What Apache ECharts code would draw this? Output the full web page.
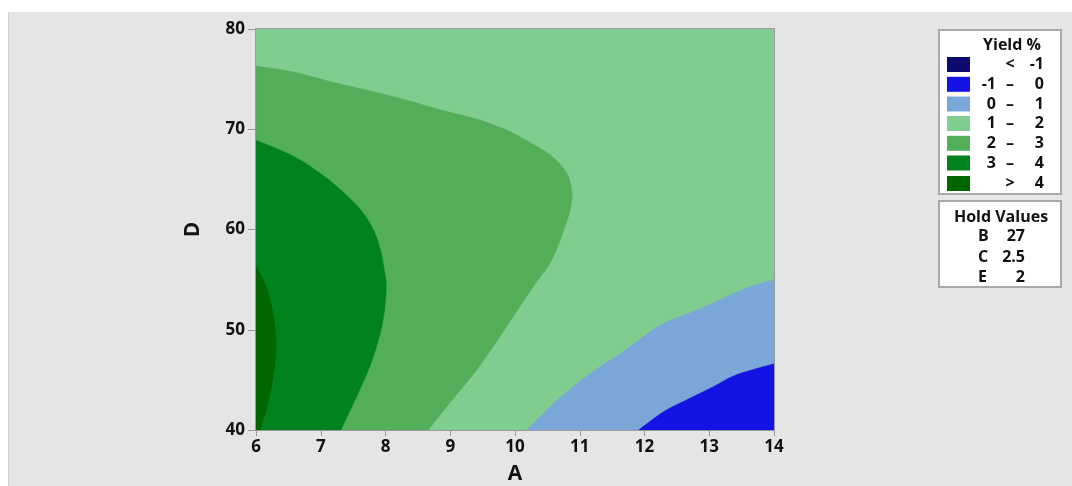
<!DOCTYPE html>
<html>
<head>
<meta charset="utf-8">
<title>Yield % contour plot</title>
<script src="https://cdn.jsdelivr.net/npm/echarts@6/dist/echarts.min.js"></script>
<style>
  html, body { margin: 0; padding: 0; background: #ffffff; }
  #chart { width: 1072px; height: 486px; }
</style>
</head>
<body>
<div id="chart"></div>
<script>
// Axis ranges and ticks
const xRange = [6, 14];
const yRange = [40, 80];
const xInterval = 1;
const yInterval = 10;

// Contour level bands (lowest to highest) and their fill colours
const levelColors = ['#0b0b70', '#1313e3', '#7ba7d8', '#81cd8f', '#52ae59', '#00831f', '#006600'];
const legendLabels = [
  ['', '<', '-1'],
  ['-1', '\u2013', '0'],
  ['0', '\u2013', '1'],
  ['1', '\u2013', '2'],
  ['2', '\u2013', '3'],
  ['3', '\u2013', '4'],
  ['', '>', '4']
];

// Hold values for the other factors
const holdFactors = ['B', 'C', 'E'];
const holdValues = ['27', '2.5', '2'];

// Contour lines as [A, D] points
const contour4 = [[6, 56.3], [6.16, 54.3], [6.27, 51.3], [6.31, 48.7], [6.29, 46.5], [6.24, 44.4], [6.16, 42.0], [6.06, 40]];
const contour3 = [[6, 68.9], [6.58, 67.3], [6.99, 65.6], [7.30, 64.0], [7.61, 62.0], [7.81, 60.0], [7.92, 58.0], [7.98, 56.0],
  [8.01, 54.3], [7.97, 51.3], [7.86, 48.3], [7.71, 45.6], [7.55, 43.3], [7.31, 40]];
const contour2 = [[6, 76.3], [6.58, 75.7], [7.12, 74.8], [7.71, 73.9], [8.27, 73.0], [8.87, 71.9], [9.41, 71.0], [9.80, 70.1],
  [10.0, 69.5], [10.28, 68.5], [10.57, 67.3], [10.80, 65.6], [10.88, 63.6], [10.85, 62.0], [10.77, 60.3], [10.57, 57.0],
  [10.28, 54.3], [10.0, 51.6], [9.66, 48.3], [9.36, 45.6], [8.94, 42.3], [8.66, 40]];
const contour1 = [[14, 55.0], [13.63, 54.3], [13.37, 53.6], [12.86, 52.1], [12.29, 50.6], [11.98, 49.3], [11.67, 47.8],
  [11.31, 46.3], [10.95, 44.6], [10.59, 42.6], [10.18, 40]];
const contour0 = [[14, 46.6], [13.42, 45.5], [13.06, 44.3], [12.65, 43.0], [12.29, 41.8], [11.91, 40]];

// Filled regions, painted back to front: each band's contour is closed against a plot corner
const cornerLL = [xRange[0], yRange[0]];
const cornerLR = [xRange[1], yRange[0]];
const regions = [
  { level: 3, curve: [[xRange[0], yRange[0]], [xRange[0], yRange[1]], [xRange[1], yRange[1]], [xRange[1], yRange[0]]], corner: null },
  { level: 4, curve: contour2, corner: cornerLL },
  { level: 5, curve: contour3, corner: cornerLL },
  { level: 6, curve: contour4, corner: cornerLL },
  { level: 2, curve: contour1, corner: cornerLR },
  { level: 1, curve: contour0, corner: cornerLR }
];

// Catmull-Rom sampling in pixel space so the contour edges render as smooth curves
function smoothPixels(pts, steps) {
  if (pts.length < 3) return pts.slice();
  const out = [];
  for (let i = 0; i < pts.length - 1; i++) {
    const p0 = pts[Math.max(i - 1, 0)], p1 = pts[i], p2 = pts[i + 1], p3 = pts[Math.min(i + 2, pts.length - 1)];
    for (let s = 0; s < steps; s++) {
      const t = s / steps, t2 = t * t, t3 = t2 * t;
      out.push([0, 1].map(k => 0.5 * ((2 * p1[k]) + (-p0[k] + p2[k]) * t +
        (2 * p0[k] - 5 * p1[k] + 4 * p2[k] - p3[k]) * t2 + (-p0[k] + 3 * p1[k] - 3 * p2[k] + p3[k]) * t3)));
    }
  }
  out.push(pts[pts.length - 1]);
  return out;
}

const FONT = '"Open Sans", "Noto Sans", sans-serif';
const axisGray = '#9a9a9a';
const textColor = '#111111';
const legendFont = 'bold 16px ' + FONT;

// Legend boxes drawn as graphic elements
const legendX = 939, legendW = 122;
const graphics = [
  { type: 'rect', z: -10, shape: { x: 0, y: 0, width: 1072, height: 486 }, style: { fill: '#ffffff' } },
  { type: 'rect', z: -9, shape: { x: 8, y: 12, width: 1064, height: 474 }, style: { fill: '#e5e5e5' } },
  { type: 'line', z: -8, shape: { x1: 8.5, y1: 12, x2: 8.5, y2: 486 }, style: { stroke: '#d0d0d0', lineWidth: 1 } },
  { type: 'rect', shape: { x: legendX, y: 30, width: legendW, height: 164 }, style: { fill: '#ffffff', stroke: '#a9a9a9', lineWidth: 2 } },
  { type: 'text', style: { text: 'Yield %', x: 1012, y: 45, textAlign: 'center', textVerticalAlign: 'middle', font: legendFont, fill: textColor } },
  { type: 'rect', shape: { x: legendX, y: 201, width: legendW, height: 86 }, style: { fill: '#ffffff', stroke: '#a9a9a9', lineWidth: 2 } },
  { type: 'text', style: { text: 'Hold Values', x: 1001, y: 217, textAlign: 'center', textVerticalAlign: 'middle', font: legendFont, fill: textColor } }
];
const rowYs = [64.5, 84.3, 104, 123.5, 143.3, 163, 183.5];
legendLabels.forEach((lab, i) => {
  const cy = rowYs[i];
  graphics.push({ type: 'rect', shape: { x: 947, y: cy - 7.5, width: 23, height: 15 }, style: { fill: levelColors[i] } });
  graphics.push({ type: 'text', style: { text: lab[0], x: 996, y: cy, textAlign: 'right', textVerticalAlign: 'middle', font: legendFont, fill: textColor } });
  graphics.push({ type: 'text', style: { text: lab[1], x: 1010, y: cy, textAlign: 'center', textVerticalAlign: 'middle', font: legendFont, fill: textColor } });
  graphics.push({ type: 'text', style: { text: lab[2], x: 1044, y: cy, textAlign: 'right', textVerticalAlign: 'middle', font: legendFont, fill: textColor } });
});
const holdYs = [236, 257, 277.5];
holdFactors.forEach((k, i) => {
  graphics.push({ type: 'text', style: { text: k, x: 978, y: holdYs[i], textAlign: 'left', textVerticalAlign: 'middle', font: legendFont, fill: textColor } });
  graphics.push({ type: 'text', style: { text: holdValues[i], x: 1025, y: holdYs[i], textAlign: 'right', textVerticalAlign: 'middle', font: legendFont, fill: textColor } });
});

const chart = echarts.init(document.getElementById('chart'), null, { renderer: 'canvas' });

const tickLabel = { color: textColor, fontFamily: FONT, fontWeight: 'bold', fontSize: 17 };
const nameStyle = { color: textColor, fontFamily: FONT, fontWeight: 'bold', fontSize: 21 };
const bareAxis = { show: true, lineStyle: { color: axisGray, width: 2 } };

chart.setOption({
  animation: false,
  backgroundColor: '#ffffff',
  graphic: graphics,
  grid: { left: 256, top: 29, width: 518, height: 401, containLabel: false, outerBoundsMode: 'none' },
  xAxis: [
    {
      type: 'value', min: xRange[0], max: xRange[1], interval: xInterval,
      name: 'A', nameLocation: 'middle', nameGap: 34, nameTextStyle: nameStyle,
      axisLine: bareAxis, axisTick: { show: true, length: 6, lineStyle: { color: axisGray, width: 1 } },
      axisLabel: Object.assign({ margin: 9 }, tickLabel),
      splitLine: { show: false }
    },
    {
      type: 'value', position: 'top', min: xRange[0], max: xRange[1],
      axisLine: bareAxis, axisTick: { show: false }, axisLabel: { show: false }, splitLine: { show: false }
    }
  ],
  yAxis: [
    {
      type: 'value', min: yRange[0], max: yRange[1], interval: yInterval,
      name: 'D', nameLocation: 'middle', nameGap: 52, nameTextStyle: nameStyle,
      axisLine: bareAxis, axisTick: { show: true, length: 8, lineStyle: { color: axisGray, width: 1 } },
      axisLabel: Object.assign({ margin: 11 }, tickLabel),
      splitLine: { show: false }
    },
    {
      type: 'value', position: 'right', min: yRange[0], max: yRange[1],
      axisLine: bareAxis, axisTick: { show: false }, axisLabel: { show: false }, splitLine: { show: false }
    }
  ],
  series: [
    {
      type: 'custom',
      coordinateSystem: 'cartesian2d',
      clip: true,
      silent: true,
      data: regions.map(r => r.curve[0]),
      renderItem: (params, api) => {
        const r = regions[params.dataIndex];
        const color = levelColors[r.level];
        const px = r.curve.map(p => api.coord(p));
        const points = r.corner ? smoothPixels(px, 8).concat([api.coord(r.corner)]) : px;
        return {
          type: 'polygon',
          shape: { points: points },
          style: { fill: color, stroke: color, lineWidth: 0.6 }
        };
      }
    }
  ]
});
</script>
</body>
</html>
